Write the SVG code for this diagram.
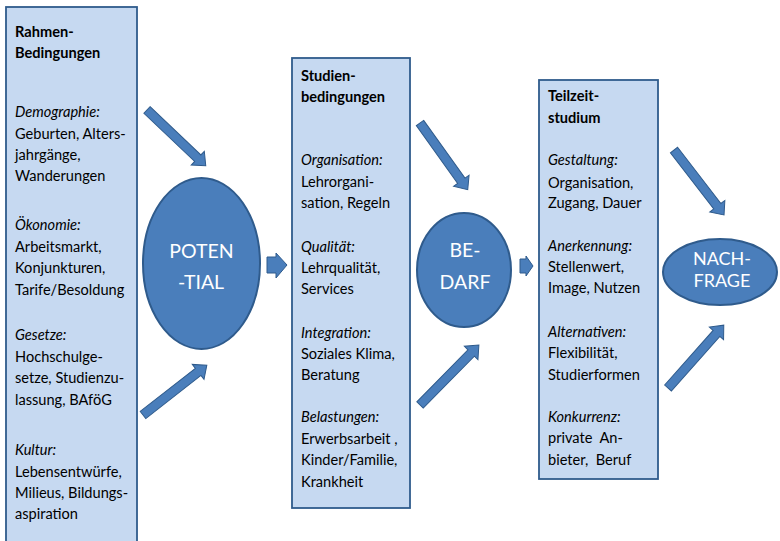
<svg xmlns="http://www.w3.org/2000/svg" width="780" height="541" viewBox="0 0 780 541">
<defs>
<style>
.box{fill:#C6D9F1;stroke:#2F5B8C;stroke-width:1.8}
.ell{fill:#4A7EBB;stroke:#2F5B8C;stroke-width:2}
.arr{fill:#4A7EBB;stroke:#2F5B8C;stroke-width:1}
text{font-family:Lato,"Liberation Sans",sans-serif;font-size:14.6px;fill:#000}
.b{font-weight:bold}
.i{font-style:italic}
.w{fill:#fff;font-size:19.5px;text-anchor:middle}
.w2{fill:#fff;font-size:18px;text-anchor:middle}
</style>
</defs>
<rect width="780" height="541" fill="#fff"/>

<g id="connectors">
<g id="a1" transform="translate(147,110) rotate(43.5)"><path class="arr" d="M0,-4.5 L70,-4.5 L70,-9.5 L81,0 L70,9.5 L70,4.5 L0,4.5 Z"/></g>
<g id="a2" transform="translate(143,415) rotate(-38)"><path class="arr" d="M0,-4.5 L70,-4.5 L70,-9.5 L81,0 L70,9.5 L70,4.5 L0,4.5 Z"/></g>
<g id="a3" transform="translate(420,123) rotate(54.4)"><path class="arr" d="M0,-4.5 L71,-4.5 L71,-9.5 L82,0 L71,9.5 L71,4.5 L0,4.5 Z"/></g>
<g id="a4" transform="translate(420,405) rotate(-45.5)"><path class="arr" d="M0,-4.5 L73,-4.5 L73,-9.5 L84,0 L73,9.5 L73,4.5 L0,4.5 Z"/></g>
<g id="a5" transform="translate(674,150) rotate(52.4)"><path class="arr" d="M0,-4.5 L71,-4.5 L71,-9.5 L82,0 L71,9.5 L71,4.5 L0,4.5 Z"/></g>
<g id="a6" transform="translate(668,388) rotate(-48.4)"><path class="arr" d="M0,-4.5 L73,-4.5 L73,-9.5 L84,0 L73,9.5 L73,4.5 L0,4.5 Z"/></g>
<polygon class="arr" points="267,257 276,257 276,253 287,265 276,278 276,273 267,273"/>
<polygon class="arr" points="520,259 526,259 526,256 533,266 526,276 526,273 520,273"/>
</g>

<g id="rahmen">
<rect class="box" x="6" y="7" width="131" height="545"/>
<text class="b" x="15" y="37">Rahmen-</text>
<text class="b" x="15" y="58">Bedingungen</text>
<text class="i" x="15" y="117">Demographie:</text>
<text x="15" y="139">Geburten, Alters-</text>
<text x="15" y="160">jahrgänge,</text>
<text x="15" y="181">Wanderungen</text>
<text class="i" x="15" y="230">Ökonomie:</text>
<text x="15" y="252">Arbeitsmarkt,</text>
<text x="15" y="273">Konjunkturen,</text>
<text x="15" y="295">Tarife/Besoldung</text>
<text class="i" x="15" y="340">Gesetze:</text>
<text x="15" y="362">Hochschulge-</text>
<text x="15" y="383">setze, Studienzu-</text>
<text x="15" y="405">lassung, BAföG</text>
<text class="i" x="15" y="455">Kultur:</text>
<text x="15" y="477">Lebensentwürfe,</text>
<text x="15" y="498">Milieus, Bildungs-</text>
<text x="15" y="519">aspiration</text>
</g>

<g id="potential">
<ellipse class="ell" cx="201.5" cy="263.5" rx="58.5" ry="85.5"/>
<text class="w" x="201.5" y="258">POTEN</text>
<text class="w" x="201" y="289">-TIAL</text>
</g>

<g id="studien">
<rect class="box" x="292" y="58" width="118" height="450"/>
<text class="b" x="301" y="81">Studien-</text>
<text class="b" x="301" y="102">bedingungen</text>
<text class="i" x="301" y="165">Organisation:</text>
<text x="301" y="187">Lehrorgani-</text>
<text x="301" y="208">sation, Regeln</text>
<text class="i" x="301" y="252">Qualität:</text>
<text x="301" y="273">Lehrqualität,</text>
<text x="301" y="294">Services</text>
<text class="i" x="301" y="338">Integration:</text>
<text x="301" y="359">Soziales Klima,</text>
<text x="301" y="380">Beratung</text>
<text class="i" x="301" y="422">Belastungen:</text>
<text x="301" y="444">Erwerbsarbeit ,</text>
<text x="301" y="465">Kinder/Familie,</text>
<text x="301" y="487">Krankheit</text>
</g>

<g id="bedarf">
<ellipse class="ell" cx="464" cy="270" rx="47" ry="57"/>
<text class="w" x="465" y="257">BE-</text>
<text class="w" x="465" y="289">DARF</text>
</g>

<g id="teilzeit">
<rect class="box" x="539" y="80" width="119" height="399"/>
<text class="b" x="548" y="101">Teilzeit-</text>
<text class="b" x="548" y="123">studium</text>
<text class="i" x="548" y="165">Gestaltung:</text>
<text x="548" y="188">Organisation,</text>
<text x="548" y="208">Zugang, Dauer</text>
<text class="i" x="548" y="251">Anerkennung:</text>
<text x="548" y="272">Stellenwert,</text>
<text x="548" y="293">Image, Nutzen</text>
<text class="i" x="548" y="337">Alternativen:</text>
<text x="548" y="358">Flexibilität,</text>
<text x="548" y="380">Studierformen</text>
<text class="i" x="548" y="422">Konkurrenz:</text>
<text x="548" y="443" xml:space="preserve">private  An-</text>
<text x="548" y="465" xml:space="preserve">bieter,  Beruf</text>
</g>

<g id="nachfrage">
<ellipse class="ell" cx="720" cy="272" rx="57" ry="33"/>
<text class="w2" x="722" y="265">NACH-</text>
<text class="w2" x="722" y="287">FRAGE</text>
</g>
</svg>
